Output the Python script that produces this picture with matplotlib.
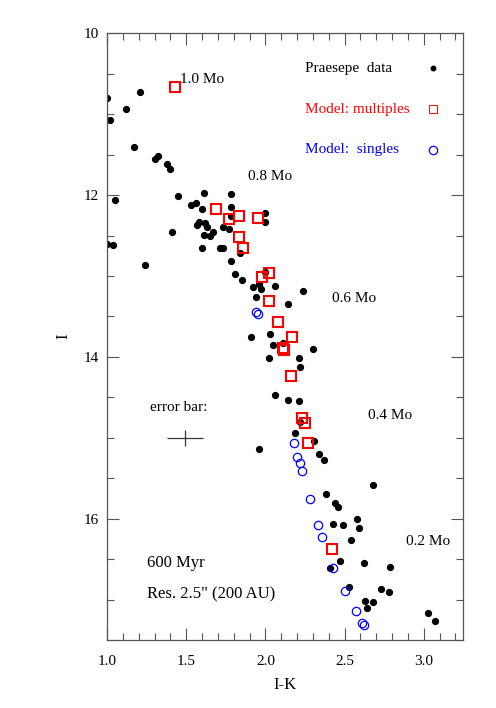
import numpy as np
import matplotlib
matplotlib.use("Agg")
import matplotlib.pyplot as plt
from matplotlib.ticker import MultipleLocator

# === Daten ===
# Praesepe Messpunkte (I-K, I)
data_ik = [1.00, 1.21, 1.12, 1.02, 1.17, 1.30, 1.32, 1.38, 1.40, 1.45, 1.05, 1.53, 1.56,
           1.61, 1.60, 1.78, 1.78, 1.00, 1.04, 1.41, 1.24, 2.00, 2.00, 1.78, 1.58, 1.57,
           1.62, 1.63, 1.73, 1.77, 1.61, 1.65, 1.67, 1.84, 1.60, 1.71, 1.73, 1.78, 1.81,
           1.85, 2.00, 1.92, 1.96, 1.97, 2.06, 1.94, 2.14, 2.24, 1.91, 2.03, 2.05, 2.11,
           2.30, 2.21, 2.02, 2.22, 2.06, 2.14, 2.21, 2.22, 2.19, 2.31, 1.96, 2.34, 2.37,
           2.68, 2.38, 2.44, 2.46, 2.43, 2.49, 2.58, 2.59, 2.54, 2.47, 2.41, 2.62, 2.79,
           2.53, 2.73, 2.78, 2.63, 2.68, 2.64, 3.03, 3.07]
data_i = [10.80, 10.73, 10.94, 11.07, 11.40, 11.55, 11.52, 11.61, 11.68, 12.01, 12.06, 12.12, 12.10,
          11.98, 12.17, 11.99, 12.15, 12.61, 12.62, 12.46, 12.87, 12.22, 12.33, 12.26, 12.33, 12.37,
          12.35, 12.40, 12.40, 12.42, 12.49, 12.51, 12.46, 12.71, 12.66, 12.66, 12.66, 12.82, 12.97,
          13.05, 12.95, 13.14, 13.10, 13.16, 13.12, 13.26, 13.35, 13.18, 13.76, 13.72, 13.85, 13.83,
          13.90, 14.02, 14.02, 14.13, 14.47, 14.53, 14.54, 14.81, 14.94, 15.04, 15.14, 15.20, 15.27,
          15.58, 15.69, 15.81, 15.85, 16.06, 16.08, 16.01, 16.12, 16.26, 16.52, 16.61, 16.55, 16.60,
          16.84, 16.87, 16.91, 17.02, 17.03, 17.11, 17.17, 17.26]

# Modell: Mehrfachsysteme
mult_ik = [1.43, 1.69, 1.77, 1.83, 1.95, 1.83, 1.86, 1.98, 2.02, 2.02, 2.08, 2.17,
           2.11, 2.12, 2.16, 2.23, 2.25, 2.27, 2.42]
mult_i = [10.67, 12.17, 12.29, 12.26, 12.28, 12.52, 12.66, 13.01, 12.96, 13.31, 13.57, 13.75,
          13.89, 13.92, 14.24, 14.76, 14.82, 15.07, 16.37]

# Modell: Einzelsterne
sing_ik = [1.94, 1.95, 2.18, 2.20, 2.22, 2.23, 2.28, 2.33, 2.36, 2.43, 2.50, 2.57, 2.61, 2.62]
sing_i = [13.45, 13.47, 15.06, 15.24, 15.31, 15.41, 15.76, 16.08, 16.23, 16.61, 16.89, 17.14,
          17.29, 17.31]

# Massenbeschriftungen
mass_labels = ["1.0 Mo", "0.8 Mo", "0.6 Mo", "0.4 Mo", "0.2 Mo"]
mass_ik = [1.46, 1.89, 2.42, 2.65, 2.89]
mass_i = [10.57, 11.77, 13.28, 14.73, 16.28]

plt.rcParams['font.family'] = ['Liberation Serif', 'DejaVu Serif']

# === Abbildung ===
fig = plt.figure(figsize=(4.96, 7.08), dpi=100)
ax = fig.add_axes([0.216, 0.096, 0.718, 0.857])

ax.plot(data_ik, data_i, 'o', color='black', markersize=4.2, zorder=2)
ax.plot(mult_ik, mult_i, 's', mfc='none', mec='red', mew=1.5, markersize=6.5, zorder=3)
ax.plot(sing_ik, sing_i, 'o', mfc='none', mec='blue', mew=0.9, markersize=6.0, zorder=3)

# Massen
for lab, x, y in zip(mass_labels, mass_ik, mass_i):
    ax.text(x, y, lab, fontsize=11, va='center', ha='left')

# Legende (von Hand)
ax.text(2.253, 10.43, "Praesepe  data", fontsize=11, va='center', color='black')
ax.text(2.253, 10.94, "Model: multiples", fontsize=11, va='center', color='red')
ax.text(2.253, 11.44, "Model:  singles", fontsize=11, va='center', color='blue')
ax.plot([3.06], [10.43], 'o', color='black', markersize=3.2)
ax.plot([3.06], [10.94], 's', mfc='none', mec='red', mew=0.7, markersize=6)
ax.plot([3.06], [11.44], 'o', mfc='none', mec='blue', mew=0.9, markersize=6)

# Fehlerbalken
ax.text(1.27, 14.63, "error bar:", fontsize=11, va='center')
ax.errorbar([1.49], [15.0], xerr=0.113, yerr=0.10, fmt='none', ecolor='#333333',
            elinewidth=0.9, capsize=0)

ax.text(1.25, 16.55, "600 Myr", fontsize=12, va='center')
ax.text(1.25, 16.94, 'Res. 2.5" (200 AU)', fontsize=12, va='center')

# Achsen
ax.set_xlim(1.0, 3.25)
ax.set_ylim(17.5, 10.0)
ax.xaxis.set_major_locator(MultipleLocator(0.5))
ax.xaxis.set_minor_locator(MultipleLocator(0.1))
ax.yaxis.set_major_locator(MultipleLocator(2))
ax.yaxis.set_minor_locator(MultipleLocator(0.5))
ax.xaxis.set_major_formatter(plt.FuncFormatter(lambda v, p: f"{v:.1f}"))
ax.tick_params(which='both', direction='in', top=True, right=True, colors='#555555',
               labelcolor='black', labelsize=11)
ax.tick_params(which='major', length=8.4, width=0.8)
ax.tick_params(which='minor', length=4.8, width=0.8)
ax.tick_params(axis='x', which='both', pad=11)
ax.tick_params(axis='y', which='both', pad=6)
for s in ax.spines.values():
    s.set_color('#555555')
    s.set_linewidth(0.9)

ax.set_xlabel("I-K", fontsize=12, labelpad=6)
ax.set_ylabel("I", fontsize=12, labelpad=9)

plt.savefig("out.png", dpi=100)
